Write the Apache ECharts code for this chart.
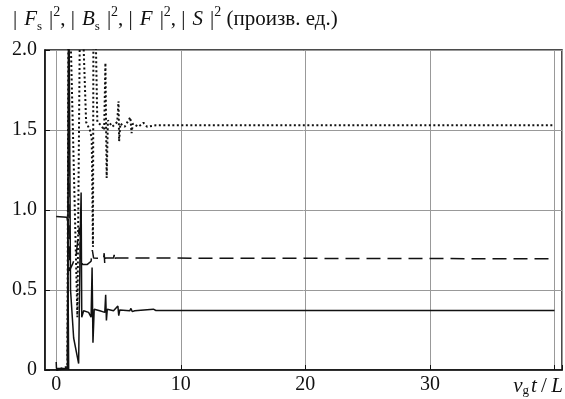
<!DOCTYPE html>
<html>
<head>
<meta charset="utf-8">
<script src="https://cdn.jsdelivr.net/npm/echarts@6/dist/echarts.min.js"></script>
<style>
  html, body { margin: 0; padding: 0; background: #fff; }
  #chart { width: 565px; height: 399px; }
</style>
</head>
<body>
<div id="chart"></div>
<script>
var myChart = echarts.init(document.getElementById("chart"));
const FONT = "Liberation Serif";

// |F_s|^2 - dotted, settles at ~1.53
const fsData = [
  [0, 0], [0.9, 0.02], [1.0, 2.6], [1.1, 2.6], [1.7, 0.33], [1.95, 2.6],
  [2.1, 2.6], [2.4, 1.55], [2.7, 1.5], [2.85, 1.45], [2.95, 0.77], [3.0, 2.6],
  [3.1, 2.4], [3.3, 1.55], [3.6, 1.53], [3.85, 1.5], [3.95, 1.92], [4.05, 1.2],
  [4.15, 1.56], [4.5, 1.52], [4.9, 1.55], [5.0, 1.68], [5.05, 1.43], [5.15, 1.54],
  [5.5, 1.52], [5.95, 1.58], [6.05, 1.48], [6.15, 1.54], [6.6, 1.52], [7.0, 1.545],
  [7.3, 1.52], [8, 1.53], [40, 1.53],
];
// |B_s|^2 - dashed, settles at ~0.70
const bsData = [
  [0, 0], [0.9, 0.01], [1.0, 1.8], [1.05, 0.62], [1.3, 0.66], [1.6, 0.72],
  [1.85, 0.89], [1.95, 0.75], [2.1, 0.66], [2.5, 0.66], [2.8, 0.68], [2.9, 0.75],
  [3.0, 0.70], [3.8, 0.695], [3.85, 0.73], [3.9, 0.66], [3.95, 0.70], [4.6, 0.70],
  [4.65, 0.72], [4.7, 0.68], [4.75, 0.70], [40, 0.695],
];
// |S|^2 - solid, settles at ~0.37
const sData = [
  [0, 0.05], [0.02, 0.01], [0.9, 0.01], [1.0, 2.6], [1.05, 2.6], [1.15, 0.5],
  [1.4, 0.2], [1.8, 0.04], [1.93, 0.85], [2.0, 1.11], [2.05, 0.33], [2.2, 0.37],
  [2.6, 0.36], [2.8, 0.33], [2.88, 0.64], [2.95, 0.17], [3.05, 0.38], [3.5, 0.37],
  [3.9, 0.36], [3.97, 0.47], [4.03, 0.31], [4.1, 0.38], [4.6, 0.37], [4.95, 0.40],
  [5.02, 0.34], [5.1, 0.375], [5.9, 0.37], [6.0, 0.385], [6.1, 0.365], [6.3, 0.37],
  [7.8, 0.38], [8, 0.372], [40, 0.372],
];
// |F|^2 - solid, pump level before the transient
const fData = [
  [0, 0.96], [0.85, 0.955], [0.92, 0.93], [1.0, 0.0],
];

const xTicks = [0, 10, 20, 30];
const yTicks = [0, 0.5, 1.0, 1.5, 2.0];

const T = "\u2009"; // thin space
const B = " \u200A"; // space inside the modulus bars

const option = {
  animation: false,
  title: {
    left: 8,
    top: 0,
    text:
      "|" + B + "{i|F}{s|s}" + B + "|{p|2}, |" + B + "{i|B}{s|s}" + B + "|{p|2}, |" + B +
      "{i|F}" + B + "|{p|2}, |" + B + "{i|S}" + B + "|{p|2} (произв. ед.)",
    textStyle: {
      fontFamily: FONT,
      fontSize: 21,
      fontWeight: "normal",
      color: "#111",
      lineHeight: 28,
      rich: {
        i: { fontFamily: FONT, fontSize: 21, fontStyle: "italic", color: "#111", lineHeight: 28 },
        s: { fontFamily: FONT, fontSize: 13, color: "#111", verticalAlign: "bottom", lineHeight: 15 },
        p: { fontFamily: FONT, fontSize: 14, color: "#111", verticalAlign: "top", lineHeight: 15 },
      },
    },
  },
  grid: {
    left: 45,
    right: 3,
    top: 50,
    bottom: 29,
    show: true,
    borderColor: "#111",
    borderWidth: 1.5,
    outerBoundsMode: "none",
    containLabel: false,
  },
  xAxis: {
    type: "value",
    min: -0.9,
    max: 40.6,
    splitNumber: 4,
    axisLine: { onZero: false, lineStyle: { color: "#111", width: 1.5 } },
    axisTick: { inside: true, length: 5, lineStyle: { color: "#111" } },
    splitLine: { show: true, lineStyle: { color: "#999", width: 1 } },
    axisLabel: {
      margin: 5,
      fontFamily: FONT,
      fontSize: 20,
      color: "#111",
      showMinLabel: false,
      hideOverlap: false,
      formatter: function (v) {
        if (xTicks.indexOf(v) >= 0) return String(v);
        if (v === 40) return "{i|v}{s|g}{i|t}{n|" + T + "/" + T + "}{i|L}{gap|}";
        return "";
      },
      rich: {
        i: { fontFamily: FONT, fontSize: 21, fontStyle: "italic", color: "#111" },
        n: { fontFamily: FONT, fontSize: 21, color: "#111" },
        s: { fontFamily: FONT, fontSize: 13, color: "#111", padding: [9, 2, 0, 0] },
        gap: { width: 33 },
      },
    },
  },
  yAxis: {
    type: "value",
    min: 0,
    max: 2,
    interval: 0.5,
    axisLine: { show: true, onZero: false, lineStyle: { color: "#111", width: 1.5 } },
    axisTick: { show: true, inside: true, length: 5, lineStyle: { color: "#111" } },
    splitLine: { show: true, lineStyle: { color: "#999", width: 1 } },
    axisLabel: {
      margin: 8,
      fontFamily: FONT,
      fontSize: 20,
      color: "#111",
      formatter: function (v) {
        if (yTicks.indexOf(v) < 0) return "";
        return v === 0 ? "0" : v.toFixed(1);
      },
    },
  },
  series: [
    {
      name: "|Fs|^2",
      type: "line",
      data: fsData,
      showSymbol: false,
      clip: true,
      lineStyle: { color: "#111", width: 2, type: [2, 2.5] },
    },
    {
      name: "|Bs|^2",
      type: "line",
      data: bsData,
      showSymbol: false,
      clip: true,
      lineStyle: { color: "#111", width: 1.5, type: [14, 7] },
    },
    {
      name: "|S|^2",
      type: "line",
      data: sData,
      showSymbol: false,
      clip: true,
      lineStyle: { color: "#111", width: 1.5 },
    },
    {
      name: "|F|^2",
      type: "line",
      data: fData,
      showSymbol: false,
      clip: true,
      lineStyle: { color: "#111", width: 1.5 },
    },
  ],
};

myChart.setOption(option);
</script>
</body>
</html>
